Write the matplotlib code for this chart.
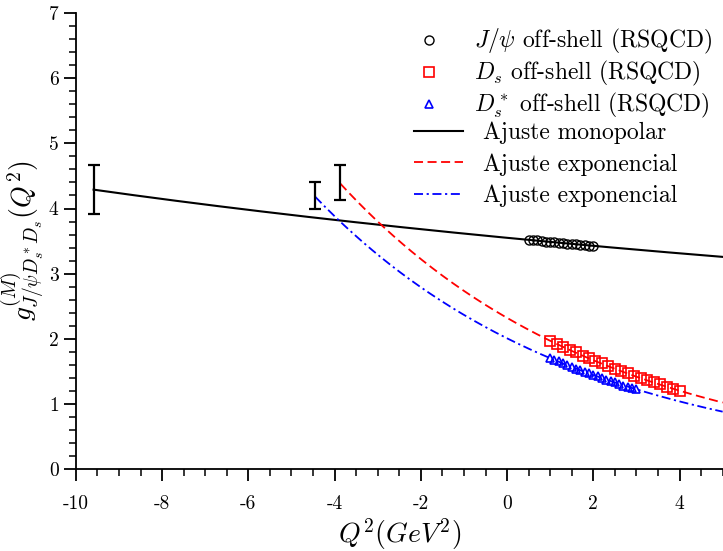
import numpy as np
import matplotlib
matplotlib.use("Agg")
import matplotlib.pyplot as plt
from matplotlib.ticker import MultipleLocator

plt.rcParams["font.family"] = "serif"
plt.rcParams["font.serif"] = ["cmr10"]
plt.rcParams["mathtext.fontset"] = "cm"
plt.rcParams["axes.unicode_minus"] = False
plt.rcParams["axes.formatter.use_mathtext"] = False

# RSQCD off-shell points
q2_jpsi = [0.5, 0.6, 0.7, 0.8, 0.9, 1.0, 1.1, 1.2, 1.3, 1.4, 1.5, 1.6, 1.7, 1.8, 1.9, 2.0]
g_jpsi = [3.52, 3.51, 3.51, 3.50, 3.49, 3.49, 3.48, 3.47, 3.47, 3.46, 3.46, 3.45, 3.44, 3.44, 3.43, 3.43]

q2_ds = [1.0, 1.15, 1.3, 1.45, 1.6, 1.75, 1.9, 2.05, 2.2, 2.35, 2.5, 2.65, 2.8, 2.95,
         3.1, 3.25, 3.4, 3.55, 3.7, 3.85, 4.0]
g_ds = [1.97, 1.92, 1.88, 1.83, 1.79, 1.74, 1.70, 1.66, 1.62, 1.58, 1.54, 1.50, 1.47,
        1.43, 1.39, 1.36, 1.33, 1.30, 1.26, 1.23, 1.20]

q2_dss = [1.0, 1.1, 1.2, 1.3, 1.4, 1.5, 1.6, 1.7, 1.8, 1.9, 2.0, 2.1, 2.2, 2.3, 2.4,
          2.5, 2.6, 2.7, 2.8, 2.9, 3.0]
g_dss = [1.70, 1.67, 1.65, 1.62, 1.59, 1.57, 1.54, 1.52, 1.49, 1.47, 1.44, 1.42, 1.40,
         1.37, 1.35, 1.33, 1.31, 1.28, 1.26, 1.24, 1.22]

# coupling extrapolated to the pole of each off-shell meson
q2_pole = [-9.59, -4.45, -3.87]
g_pole = [4.29, 4.20, 4.40]
g_pole_err = [0.38, 0.21, 0.27]

# fit parameters: monopole A*B/(B+Q^2), exponentials A*exp(-Q^2/B)
mono_A, mono_B = 3.55, 55.6
exp_ds_A, exp_ds_B = 2.32, 6.08
exp_dss_A, exp_dss_B = 2.006, 6.06

fig = plt.figure(figsize=(7.23, 5.51), dpi=100)
ax = fig.add_axes([0.105, 0.149, 0.8945, 0.827])

x_mono = np.linspace(q2_pole[0], 5, 300)
x_ds = np.linspace(q2_pole[2], 5, 300)
x_dss = np.linspace(q2_pole[1], 5, 300)

pts = []
pts += ax.plot(q2_jpsi, g_jpsi, linestyle="none", marker="o", ms=6.5, mfc="none",
               mec="black", mew=1.0, label=r"$J/\psi$ off-shell (RSQCD)", zorder=4)
pts += ax.plot(q2_ds, g_ds, linestyle="none", marker="s", ms=7, mfc="none",
               mec="red", mew=1.2, label=r"$D_s$ off-shell (RSQCD)", zorder=4)
pts += ax.plot(q2_dss, g_dss, linestyle="none", marker="^", ms=6, mfc="none",
               mec="blue", mew=1.2, label=r"$D_s^*$ off-shell (RSQCD)", zorder=4)

fits = []
fits += ax.plot(x_mono, mono_A * mono_B / (mono_B + x_mono), color="black", lw=1.5,
                label="Ajuste monopolar")
fits += ax.plot(x_ds, exp_ds_A * np.exp(-x_ds / exp_ds_B), color="red", lw=1.3,
                linestyle=(0, (5, 2.5)), label="Ajuste exponencial")
fits += ax.plot(x_dss, exp_dss_A * np.exp(-x_dss / exp_dss_B), color="blue", lw=1.3,
                linestyle=(0, (5, 2, 1.2, 2)), label="Ajuste exponencial")

ax.errorbar(q2_pole, g_pole, yerr=g_pole_err, fmt="none", ecolor="black",
            elinewidth=1.6, capsize=4.5, capthick=1.6, zorder=5)

ax.set_xlim(-10, 5)
ax.set_ylim(0, 7)
ax.xaxis.set_major_locator(MultipleLocator(2))
ax.xaxis.set_minor_locator(MultipleLocator(0.5))
ax.yaxis.set_major_locator(MultipleLocator(1))
ax.yaxis.set_minor_locator(MultipleLocator(0.2))
ax.tick_params(which="major", direction="out", length=8.5, width=1.3, labelsize=14)
ax.tick_params(which="minor", direction="out", length=5, width=1.1)
ax.tick_params(axis="x", which="major", pad=10)
ax.tick_params(axis="y", which="major", pad=4)
for side in ("top", "right"):
    ax.spines[side].set_visible(False)
for side in ("left", "bottom"):
    ax.spines[side].set_linewidth(1.3)

ax.set_xlabel(r"$Q^2(GeV^2)$", fontsize=20, labelpad=3)
ax.set_ylabel(r"$g^{(M)}_{J/\psi D_s^* D_s}(Q^2)$", fontsize=20, labelpad=2)

leg_pts = ax.legend(handles=pts, loc="upper right", bbox_to_anchor=(1.005, 1.0),
                    frameon=False, fontsize=17, handlelength=2.1, handletextpad=0.85,
                    labelspacing=0.12, borderaxespad=0.2)
ax.add_artist(leg_pts)
ax.legend(handles=fits, loc="upper right", bbox_to_anchor=(0.945, 0.783),
          frameon=False, fontsize=17, handlelength=2.1, handletextpad=0.85,
          labelspacing=0.38, borderaxespad=0.0)

fig.savefig("out.png", dpi=100)
